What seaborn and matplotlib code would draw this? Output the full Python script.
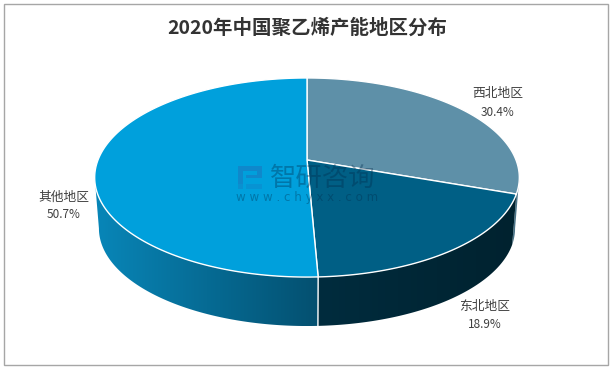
import numpy as np
import seaborn as sns
import matplotlib.pyplot as plt
from matplotlib.patches import Polygon, Rectangle

regions = ['西北地区', '东北地区', '其他地区']
shares = [30.4, 18.9, 50.7]
top_colors = ['#5e90a8', '#005f85', '#00a0dc']
side_colors = [['#4a7488', '#4a7488'], ['#002c3e', '#00222f'], ['#045070', '#0886b8']]
label_pos = [(498, 102), (485, 314), (64, 205)]

sns.set_theme(style='white')
plt.rcParams['font.family'] = ['Noto Sans CJK SC', 'DejaVu Sans']

# ellipse en perspective, en pixels de l'image
cx, cy = 307, 160
rx = 209
persp, squash = 0.176, -68.3
side_scale, side_drop = 0.98, 51.3


def top_xy(ang):
    u, v = np.sin(ang), np.cos(ang)
    w = persp * v + 1
    return cx + rx * u / w, (squash * v + cy) / w


def bottom_xy(ang):
    x, y = top_xy(ang)
    return cx + side_scale * (x - cx), cy + side_scale * (y - cy) + side_drop


fig = plt.figure(figsize=(6.14, 3.7), dpi=100)
ax = fig.add_axes([0, 0, 1, 1])
ax.set_xlim(0, 614)
ax.set_ylim(370, 0)
ax.axis('off')

ax.add_patch(Rectangle((4, 3.5), 604, 361.5, fill=False, ec='#a6a6a6', lw=1))

edges = np.radians(np.cumsum([0] + shares) * 3.6)
tangent = np.arccos(-persp)

# flancs du camembert : degrade horizontal decoupe par le polygone
for i in range(len(shares)):
    a0, a1 = edges[i], edges[i + 1]
    vis0, vis1 = max(a0, tangent), min(a1, 2 * np.pi - tangent)
    if vis0 >= vis1:
        continue
    seg = np.linspace(vis0, vis1, 200)
    tx, ty = top_xy(seg)
    bx, by = bottom_xy(seg)
    pts = np.column_stack([np.r_[tx, bx[::-1]], np.r_[ty, by[::-1]]])
    poly = Polygon(pts, fc='none', ec='none', transform=ax.transData)
    ax.add_patch(poly)
    xmin, xmax = pts[:, 0].min(), pts[:, 0].max()
    pal = np.array(sns.blend_palette(side_colors[i], 120))[None, :, :]
    if xmin < cx:
        pal = pal[:, ::-1, :]
    im = ax.imshow(pal, extent=(xmin, xmax, pts[:, 1].max(), pts[:, 1].min()),
                   aspect='auto', zorder=2, interpolation='bilinear')
    im.set_clip_path(poly)
ax.set_xlim(0, 614)
ax.set_ylim(370, 0)

# separation sur le flanc
sep = edges[2]
ax.plot([top_xy(sep)[0], bottom_xy(sep)[0]], [top_xy(sep)[1], bottom_xy(sep)[1]],
        color='white', lw=1, zorder=3)

# dessus
for i in range(len(shares)):
    arc = np.linspace(edges[i], edges[i + 1], 200)
    x, y = top_xy(arc)
    pts = np.column_stack([np.r_[cx, x], np.r_[cy, y]])
    ax.add_patch(Polygon(pts, fc=top_colors[i], ec='white', lw=1, zorder=4, joinstyle='round'))

# filigrane
wm = '#002a4a'
ax.text(323, 178, '智研咨询', fontsize=19, color=wm, alpha=0.35, ha='center', va='center',
        zorder=5)
ax.text(307, 197, 'w w w . c h y x x . c o m', fontsize=8.6, color=wm, alpha=0.35,
        ha='center', va='center', zorder=5, family='DejaVu Sans')
logo = '#1a78c0'
for (lx, ly, lw_, lh, al) in [(238, 166, 24, 5, 0.6), (238, 171, 5, 13, 0.6),
                              (257, 171, 5, 7, 0.6), (246, 175, 11, 3, 0.6),
                              (238, 184, 5, 5, 0.4), (246, 184, 16, 5, 0.3)]:
    ax.add_patch(Rectangle((lx, ly), lw_, lh, fc=logo, ec='none', alpha=al, zorder=5))

# textes
ax.text(307, 28, '2020年中国聚乙烯产能地区分布', fontsize=14, fontweight='bold',
        color='#333333', ha='center', va='center', zorder=6)
for name, val, (lx, ly) in zip(regions, shares, label_pos):
    ax.text(lx, ly - 8, name, fontsize=9.2, color='#404040', ha='center', va='center', zorder=6)
    ax.text(lx, ly + 10, f'{val}%', fontsize=8.5, color='#404040', ha='center', va='center', zorder=6)

fig.savefig('out.png', dpi=100)
